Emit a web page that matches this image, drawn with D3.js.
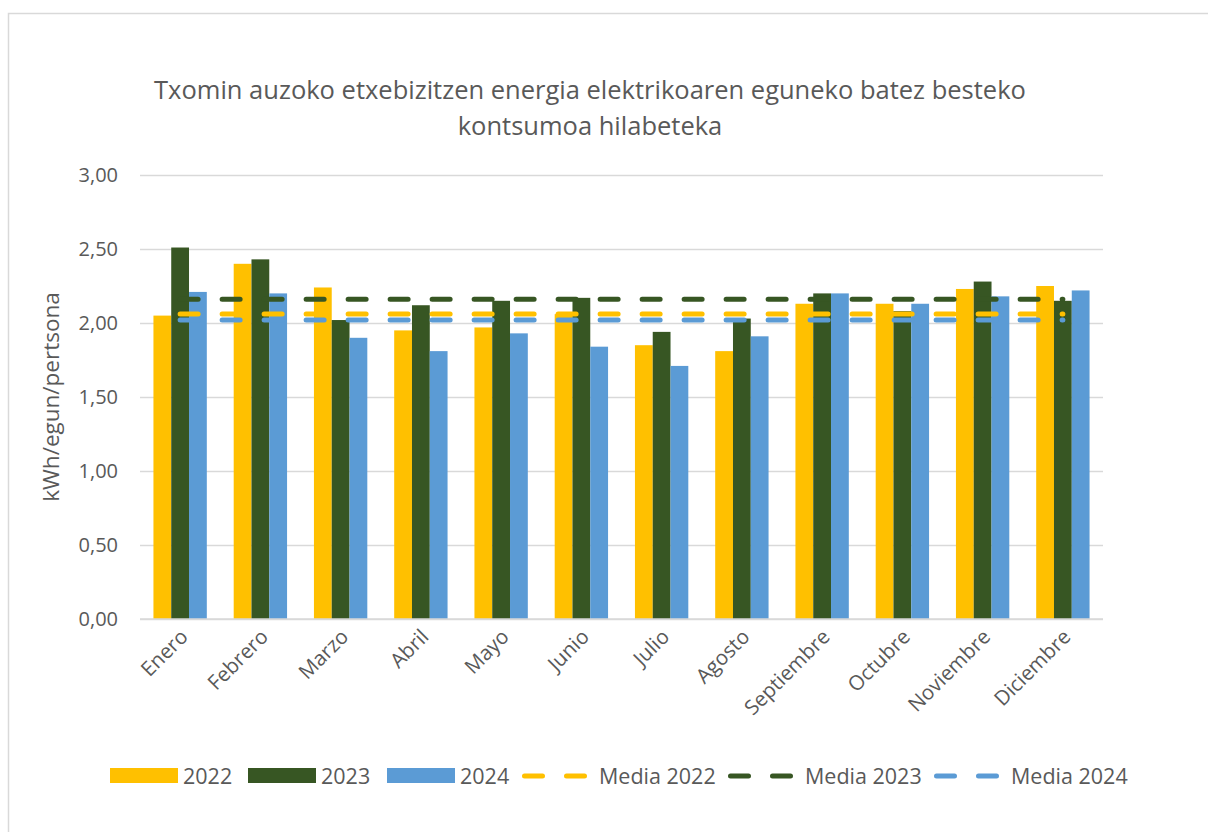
<!DOCTYPE html>
<html>
<head>
<meta charset="utf-8">
<script src="https://cdn.jsdelivr.net/npm/d3@7"></script>
<style>
  body { margin: 0; background: #fff; }
  text { font-family: "Open Sans", sans-serif; fill: #595959; }
</style>
</head>
<body>
<svg width="1208" height="832"></svg>
<script>
const months = ["Enero", "Febrero", "Marzo", "Abril", "Mayo", "Junio", "Julio",
  "Agosto", "Septiembre", "Octubre", "Noviembre", "Diciembre"];
const years = ["2022", "2023", "2024"];
const values2022 = [2.05, 2.40, 2.24, 1.95, 1.97, 2.06, 1.85, 1.81, 2.13, 2.13, 2.23, 2.25];
const values2023 = [2.51, 2.43, 2.02, 2.12, 2.15, 2.17, 1.94, 2.03, 2.20, 2.08, 2.28, 2.15];
const values2024 = [2.21, 2.20, 1.90, 1.81, 1.93, 1.84, 1.71, 1.91, 2.20, 2.13, 2.18, 2.22];
const means = [2.06, 2.16, 2.02];
const yTicks = [0, 0.5, 1, 1.5, 2, 2.5, 3];
const colors = ["#FFC000", "#375623", "#5B9BD5"];

const series = [values2022, values2023, values2024];
const svg = d3.select("svg");

// outer chart border
svg.append("rect")
  .attr("x", 8.5).attr("y", 13.5)
  .attr("width", 1300).attr("height", 900)
  .attr("fill", "none")
  .attr("stroke", "#d9d9d9")
  .attr("stroke-width", 1.5);

const plotLeft = 140, plotRight = 1103, plotTop = 175, plotBottom = 619;

const x = d3.scaleBand().domain(months).range([plotLeft, plotRight]);
const x1 = d3.scaleBand().domain(years).range([0, x.bandwidth() * 0.665]);
const groupOffset = (x.bandwidth() - x1.range()[1]) / 2;
const y = d3.scaleLinear().domain([0, 3]).range([plotBottom, plotTop]);

// gridlines
const yAxis = d3.axisLeft(y)
  .tickValues(yTicks)
  .tickSize(-(plotRight - plotLeft))
  .tickPadding(22)
  .tickFormat(d => d3.format(".2f")(d).replace(".", ","));

const gy = svg.append("g")
  .attr("transform", `translate(${plotLeft},0)`)
  .call(yAxis);
gy.select(".domain").remove();
gy.selectAll(".tick line").attr("stroke", "#d9d9d9").attr("stroke-width", 1.5);
gy.selectAll(".tick text")
  .style("font-size", "20px")
  .style("font-family", "'Open Sans', sans-serif")
  .attr("fill", "#595959");

// bars
series.forEach((vals, si) => {
  svg.append("g")
    .selectAll("rect")
    .data(vals)
    .enter()
    .append("rect")
    .attr("x", (d, i) => x(months[i]) + groupOffset + x1(years[si]))
    .attr("y", d => y(d))
    .attr("width", x1.bandwidth())
    .attr("height", d => y(0) - y(d))
    .attr("fill", colors[si]);
});

// x axis line
svg.append("line")
  .attr("x1", plotLeft).attr("x2", plotRight)
  .attr("y1", y(0)).attr("y2", y(0))
  .attr("stroke", "#d9d9d9").attr("stroke-width", 1.5);

// mean lines
means.forEach((m, si) => {
  svg.append("path")
    .datum(months)
    .attr("d", d3.line()
      .x(d => x(d) + x.bandwidth() / 2)
      .y(() => y(m)))
    .attr("fill", "none")
    .attr("stroke", colors[si])
    .attr("stroke-width", 5)
    .attr("stroke-linecap", "round")
    .attr("stroke-dasharray", "18 24");
});

// x labels
svg.append("g")
  .selectAll("text")
  .data(months)
  .enter()
  .append("text")
  .attr("transform", d => `translate(${x(d) + x.bandwidth() / 2 + 4},${plotBottom + 14}) rotate(-45)`)
  .attr("text-anchor", "end")
  .attr("dy", "0.35em")
  .style("font-size", "20.5px")
  .text(d => d);

// title
svg.append("text")
  .attr("x", 590).attr("y", 99)
  .attr("text-anchor", "middle")
  .style("font-size", "25.5px")
  .text("Txomin auzoko etxebizitzen energia elektrikoaren eguneko batez besteko");
svg.append("text")
  .attr("x", 590).attr("y", 135)
  .attr("text-anchor", "middle")
  .style("font-size", "25.5px")
  .text("kontsumoa hilabeteka");

// y title
svg.append("text")
  .attr("transform", `translate(59,${(plotTop + plotBottom) / 2}) rotate(-90)`)
  .attr("text-anchor", "middle")
  .style("font-size", "22.5px")
  .text("kWh/egun/pertsona");

// legend
const legY = 776;
const legBars = [
  { label: "2022", x: 110 },
  { label: "2023", x: 248 },
  { label: "2024", x: 387 }
];
const legLines = [
  { label: "Media 2022", x: 522 },
  { label: "Media 2023", x: 728 },
  { label: "Media 2024", x: 934 }
];
legBars.forEach((d, i) => {
  svg.append("rect")
    .attr("x", d.x).attr("y", legY - 8)
    .attr("width", 68).attr("height", 15)
    .attr("fill", colors[i]);
  svg.append("text")
    .attr("x", d.x + 73).attr("y", legY)
    .attr("dy", "0.35em")
    .style("font-size", "21.5px")
    .text(d.label);
});
legLines.forEach((d, i) => {
  svg.append("path")
    .attr("d", `M${d.x + 2.5},${legY}H${d.x + 66.5}`)
    .attr("stroke", colors[i])
    .attr("stroke-width", 5)
    .attr("stroke-linecap", "round")
    .attr("stroke-dasharray", "18 24");
  svg.append("text")
    .attr("x", d.x + 77).attr("y", legY)
    .attr("dy", "0.35em")
    .style("font-size", "21.5px")
    .text(d.label);
});
</script>
</body>
</html>
